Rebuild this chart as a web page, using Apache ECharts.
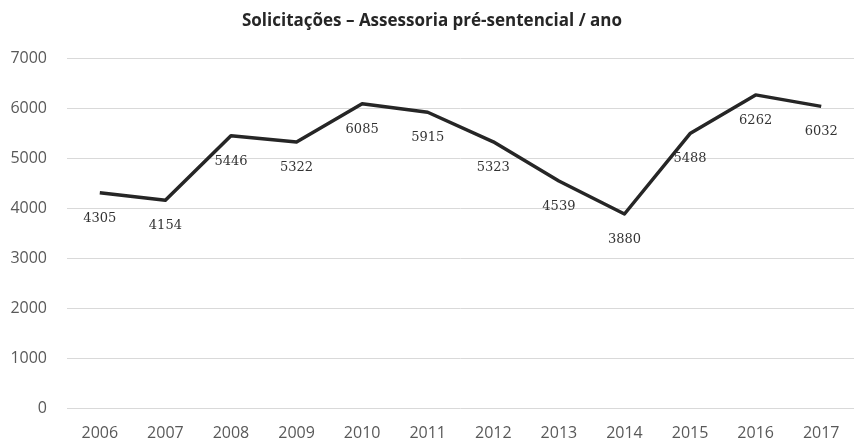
<!DOCTYPE html>
<html>
<head>
<meta charset="utf-8">
<script src="https://cdn.jsdelivr.net/npm/echarts@6/dist/echarts.min.js"></script>
<style>
  html, body { margin: 0; padding: 0; background: #ffffff; }
  #chart { width: 854px; height: 442px; }
</style>
</head>
<body>
<div id="chart"></div>
<script>
// Yearly requests for pre-sentencing advisory work
const years = ['2006', '2007', '2008', '2009', '2010', '2011', '2012', '2013', '2014', '2015', '2016', '2017'];
const requests = [4305, 4154, 5446, 5322, 6085, 5915, 5323, 4539, 3880, 5488, 6262, 6032];
const yTicks = { min: 0, max: 7000, step: 1000 };

const chart = echarts.init(document.getElementById('chart'), null, { renderer: 'canvas' });

chart.setOption({
  animation: false,
  backgroundColor: '#ffffff',
  title: {
    text: 'Solicitações – Assessoria pré-sentencial / ano',
    left: 427,
    textAlign: 'center',
    top: 8,
    textStyle: {
      fontFamily: 'Open Sans',
      fontWeight: 'bold',
      fontSize: 17,
      color: '#262626'
    }
  },
  grid: {
    left: 67,
    top: 58,
    width: 796,
    bottom: 34,
    containLabel: false
  },
  xAxis: {
    type: 'category',
    data: years,
    boundaryGap: true,
    axisLine: { show: false },
    axisTick: { show: false },
    axisLabel: {
      margin: 17,
      fontFamily: 'Open Sans',
      fontSize: 16,
      color: '#595959'
    }
  },
  yAxis: {
    type: 'value',
    min: yTicks.min,
    max: yTicks.max,
    interval: yTicks.step,
    axisLine: { show: false },
    axisTick: { show: false },
    axisLabel: {
      margin: 20,
      fontFamily: 'Open Sans',
      fontSize: 16,
      color: '#595959',
      formatter: (v) => String(v)
    },
    splitLine: { lineStyle: { color: '#d9d9d9', width: 1 } }
  },
  series: [{
    type: 'line',
    data: requests,
    symbol: 'circle',
    symbolSize: 2,
    showSymbol: true,
    itemStyle: { color: 'rgba(0,0,0,0)', borderWidth: 0 },
    lineStyle: { color: '#262626', width: 3.5, join: 'round' },
    label: {
      show: true,
      position: 'bottom',
      distance: 18,
      fontFamily: 'DejaVu Serif',
      fontSize: 13,
      color: '#333333'
    }
  }]
});
</script>
</body>
</html>
